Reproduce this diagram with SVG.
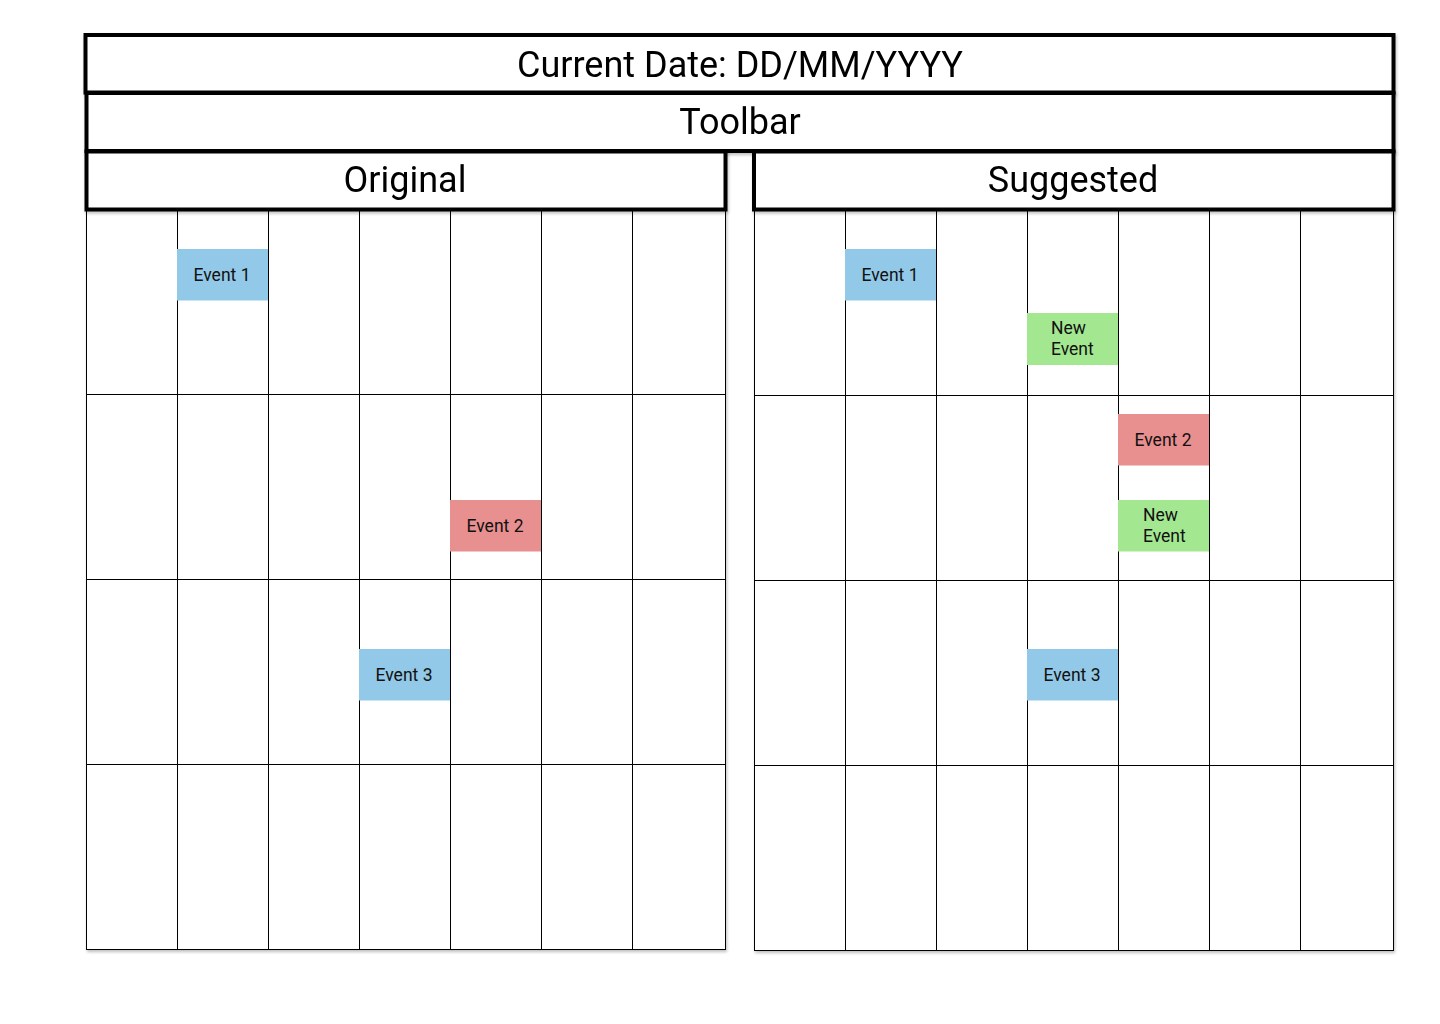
<svg xmlns="http://www.w3.org/2000/svg" width="1440" height="1024" viewBox="0 0 1440 1024">
<defs>
<filter id="sh" x="-5%" y="-5%" width="110%" height="120%">
<feDropShadow dx="1" dy="2" stdDeviation="1.5" flood-color="#000" flood-opacity="0.25"/>
</filter>
</defs>
<style>
.hdr{fill:#fff;stroke:#000;stroke-width:4}
.grid{fill:#fff;stroke:#000;stroke-width:1}
.ln{stroke:#000;stroke-width:1}
.big{font-family:Roboto,"Liberation Sans",sans-serif;font-size:36px;fill:#000;text-anchor:middle}
.ev{font-family:Roboto,"Liberation Sans",sans-serif;font-size:17.5px;fill:#111}
.mid{text-anchor:middle}
.blue{fill:#93C9E8}
.red{fill:#E88F8F}
.green{fill:#A3E891}
</style>
<rect width="1440" height="1024" fill="#fff"/>

<g id="grid-original" filter="url(#sh)">
<rect class="grid" x="86.5" y="209.5" width="639" height="740"/>
</g>
<g id="grid-original-lines">
<line class="ln" x1="177.5" y1="209" x2="177.5" y2="949"/>
<line class="ln" x1="268.5" y1="209" x2="268.5" y2="949"/>
<line class="ln" x1="359.5" y1="209" x2="359.5" y2="949"/>
<line class="ln" x1="450.5" y1="209" x2="450.5" y2="949"/>
<line class="ln" x1="541.5" y1="209" x2="541.5" y2="949"/>
<line class="ln" x1="632.5" y1="209" x2="632.5" y2="949"/>
<line class="ln" x1="86" y1="394.5" x2="726" y2="394.5"/>
<line class="ln" x1="86" y1="579.5" x2="726" y2="579.5"/>
<line class="ln" x1="86" y1="764.5" x2="726" y2="764.5"/>
</g>

<g id="grid-suggested" filter="url(#sh)">
<rect class="grid" x="754.5" y="209.5" width="639" height="741"/>
</g>
<g id="grid-suggested-lines">
<line class="ln" x1="845.5" y1="209" x2="845.5" y2="950"/>
<line class="ln" x1="936.5" y1="209" x2="936.5" y2="950"/>
<line class="ln" x1="1027.5" y1="209" x2="1027.5" y2="950"/>
<line class="ln" x1="1118.5" y1="209" x2="1118.5" y2="950"/>
<line class="ln" x1="1209.5" y1="209" x2="1209.5" y2="950"/>
<line class="ln" x1="1300.5" y1="209" x2="1300.5" y2="950"/>
<line class="ln" x1="754" y1="395.5" x2="1394" y2="395.5"/>
<line class="ln" x1="754" y1="580.5" x2="1394" y2="580.5"/>
<line class="ln" x1="754" y1="765.5" x2="1394" y2="765.5"/>
</g>

<g id="orig-event1">
<rect class="blue" x="177" y="249" width="91" height="51.5"/>
<text class="ev mid" x="222" y="281">Event 1</text>
</g>
<g id="orig-event2">
<rect class="red" x="450" y="500" width="91" height="51.5"/>
<text class="ev mid" x="495" y="532">Event 2</text>
</g>
<g id="orig-event3">
<rect class="blue" x="359" y="649" width="91" height="51.5"/>
<text class="ev mid" x="404" y="681">Event 3</text>
</g>

<g id="sugg-event1">
<rect class="blue" x="845" y="249" width="91" height="51.5"/>
<text class="ev mid" x="890" y="281">Event 1</text>
</g>
<g id="sugg-new1">
<rect class="green" x="1027" y="313" width="91" height="52"/>
<text class="ev" x="1051" y="334">New</text>
<text class="ev" x="1051" y="355">Event</text>
</g>
<g id="sugg-event2">
<rect class="red" x="1118" y="414" width="91" height="51.5"/>
<text class="ev mid" x="1163" y="446">Event 2</text>
</g>
<g id="sugg-new2">
<rect class="green" x="1118" y="500" width="91" height="51.5"/>
<text class="ev" x="1143" y="521">New</text>
<text class="ev" x="1143" y="542">Event</text>
</g>
<g id="sugg-event3">
<rect class="blue" x="1027" y="649" width="91" height="51.5"/>
<text class="ev mid" x="1072" y="681">Event 3</text>
</g>

<g id="current-date" filter="url(#sh)">
<rect class="hdr" x="85.5" y="35" width="1308" height="57.5"/>
<text class="big" x="740" y="77">Current Date: DD/MM/YYYY</text>
</g>
<g id="toolbar" filter="url(#sh)">
<rect class="hdr" x="86.5" y="93" width="1307" height="58"/>
<text class="big" x="740" y="134">Toolbar</text>
</g>
<g id="original" filter="url(#sh)">
<rect class="hdr" x="86.5" y="151.5" width="639" height="58"/>
<text class="big" x="405" y="192">Original</text>
</g>
<g id="suggested" filter="url(#sh)">
<rect class="hdr" x="754" y="151.5" width="639.5" height="58"/>
<text class="big" x="1073" y="192">Suggested</text>
</g>
</svg>
